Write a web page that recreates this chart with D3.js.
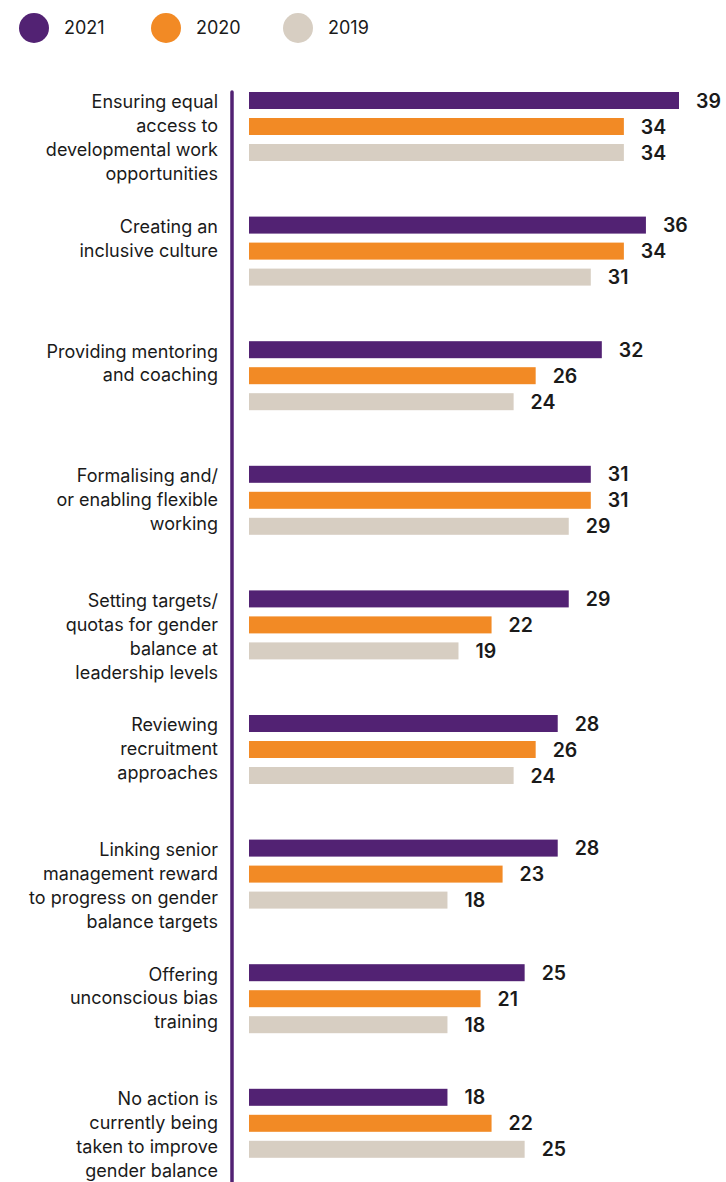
<!DOCTYPE html>
<html>
<head>
<meta charset="utf-8">
<script src="https://cdn.jsdelivr.net/npm/d3@7"></script>
<style>
  html, body { margin: 0; padding: 0; background: #fff; }
  svg { display: block; }
  text { font-family: "Inter", "Noto Sans", sans-serif; fill: #1a1a1a; }
</style>
</head>
<body>
<svg id="chart" width="726" height="1182"></svg>
<script>
const categories = [
  ["Ensuring equal", "access to", "developmental work", "opportunities"],
  ["Creating an", "inclusive culture"],
  ["Providing mentoring", "and coaching"],
  ["Formalising and/", "or enabling flexible", "working"],
  ["Setting targets/", "quotas for gender", "balance at", "leadership levels"],
  ["Reviewing", "recruitment", "approaches"],
  ["Linking senior", "management reward", "to progress on gender", "balance targets"],
  ["Offering", "unconscious bias", "training"],
  ["No action is", "currently being", "taken to improve", "gender balance"]
];
const seriesNames = ["2021", "2020", "2019"];
const values2021 = [39, 36, 32, 31, 29, 28, 28, 25, 18];
const values2020 = [34, 34, 26, 31, 22, 26, 23, 21, 22];
const values2019 = [34, 31, 24, 29, 19, 24, 18, 18, 25];
const colors = ["#522273", "#f28a25", "#d7cec2"];

const seriesValues = [values2021, values2020, values2019];
const svg = d3.select("#chart");
const keys = categories.map((c, i) => "c" + i);

const x = d3.scaleLinear().domain([0, 39]).range([249, 679]);
const y0 = d3.scaleBand().domain(keys).range([92, 92 + 9 * 124.6]).paddingInner(0).paddingOuter(0);
const y1 = d3.scaleBand().domain(seriesNames).range([0, 69]).paddingInner(0.346).paddingOuter(0);
const color = d3.scaleOrdinal().domain(seriesNames).range(colors);

// legend
const legend = svg.append("g").selectAll("g").data(seriesNames).join("g")
  .attr("transform", (d, i) => `translate(${34 + i * 132},28)`);
legend.append("circle").attr("r", 15).attr("fill", d => color(d));
legend.append("text").attr("x", 30).attr("y", 0).attr("dy", "0.35em")
  .attr("font-size", 18).text(d => d);

// vertical axis line
svg.append("line")
  .attr("x1", 232).attr("x2", 232)
  .attr("y1", 92).attr("y2", 1200)
  .attr("stroke", "#522273").attr("stroke-width", 3.5)
  .attr("stroke-linecap", "round");

const groups = svg.append("g").selectAll("g").data(keys).join("g")
  .attr("transform", d => `translate(0,${y0(d)})`);

const barData = (k, i) => seriesNames.map((s, j) => ({ s, v: seriesValues[j][i] }));

groups.each(function(k, i) {
  const g = d3.select(this);
  const data = barData(k, i);
  g.selectAll("rect").data(data).join("rect")
    .attr("x", x(0))
    .attr("y", d => y1(d.s))
    .attr("width", d => x(d.v) - x(0))
    .attr("height", y1.bandwidth())
    .attr("fill", d => color(d.s));
  g.selectAll("text.val").data(data).join("text")
    .attr("class", "val")
    .attr("x", d => x(d.v) + 17)
    .attr("y", d => y1(d.s) + y1.bandwidth() / 2)
    .attr("dy", "0.36em")
    .attr("font-size", 19.5)
    .attr("font-weight", 600)
    .text(d => d.v);
  const lbl = g.append("text")
    .attr("text-anchor", "end")
    .attr("font-size", 18)
    .attr("y", y1.bandwidth() / 2 + 1.5);
  lbl.selectAll("tspan").data(categories[i]).join("tspan")
    .attr("x", 218)
    .attr("dy", (d, j) => j === 0 ? "0.35em" : "24")
    .text(d => d);
});
</script>
</body>
</html>
